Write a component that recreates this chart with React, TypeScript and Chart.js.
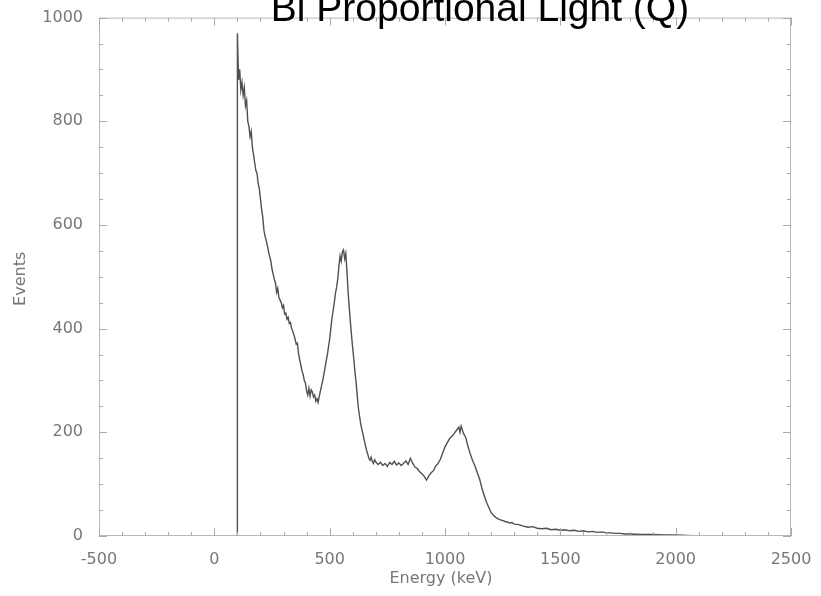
import React, { useEffect, useRef } from "react";
import { Chart, registerables } from "chart.js";

Chart.register(...registerables);

const TITLE = "Bi Proportional Light (Q)";
const X_TITLE = "Energy (keV)";
const Y_TITLE = "Events";

const xTicks = [-500, 0, 500, 1000, 1500, 2000, 2500];
const yTicks = [0, 200, 400, 600, 800, 1000];

const energy = [
  100, 100, 105, 110, 115, 120, 125, 130, 135, 140, 145, 150, 155, 160, 165, 170, 175, 180, 185, 190, 195,
  200, 205, 210, 215, 220, 225, 230, 235, 240, 245, 250, 255, 260, 265, 270, 275, 280, 285, 290, 295,
  300, 305, 310, 315, 320, 325, 330, 335, 340, 345, 350, 355, 360, 365, 370, 375, 380, 385, 390, 395,
  400, 405, 410, 415, 420, 425, 430, 435, 440, 445, 450, 455, 460, 465, 470, 475, 480, 485, 490, 495,
  500, 505, 510, 515, 520, 525, 530, 535, 540, 545, 550, 555, 560, 565, 570, 575, 580, 585, 590, 595,
  600, 605, 610, 615, 620, 625, 630, 635, 640, 645, 650, 655, 660, 665, 670, 675, 680, 685, 690, 695,
  700, 710, 720, 730, 740, 750, 760, 770, 780, 790, 800, 810, 820, 830, 840, 850, 860, 870, 880, 890,
  900, 910, 920, 930, 940, 950, 960, 970, 980, 990, 1000, 1010, 1020, 1030, 1040, 1050, 1060, 1065,
  1070, 1075, 1080, 1090, 1100, 1110, 1120, 1130, 1140, 1150, 1160, 1170, 1180, 1190, 1200, 1210,
  1220, 1230, 1240, 1250, 1260, 1270, 1280, 1290, 1300, 1320, 1340, 1360, 1380, 1400, 1420, 1440,
  1460, 1480, 1500, 1520, 1540, 1560, 1580, 1600, 1620, 1640, 1660, 1680, 1700, 1720, 1740, 1760,
  1780, 1800, 1850, 1900, 1950, 2000, 2050, 2100,
];

const events = [
  0, 970, 880, 900, 860, 875, 850, 865, 830, 840, 800, 790, 770, 780, 750, 735, 720, 705, 700, 680, 670,
  650, 630, 615, 590, 578, 570, 560, 548, 540, 530, 515, 505, 495, 488, 470, 478, 460, 455, 450, 440,
  445, 428, 430, 418, 422, 410, 412, 400, 395, 388, 380, 370, 372, 352, 340, 330, 318, 312, 300, 295,
  280, 272, 285, 270, 282, 278, 268, 272, 260, 265, 258, 270, 280, 290, 300, 312, 325, 338, 350, 365,
  380, 400, 420, 435, 450, 468, 480, 495, 520, 540, 530, 548, 552, 535, 545, 510, 470, 440, 412, 385,
  362, 340, 315, 295, 268, 245, 230, 215, 205, 195, 185, 175, 165, 158, 150, 146, 152, 144, 140, 147,
  143, 138, 142, 136, 140, 134, 142, 138, 144, 137, 141, 136, 140, 145, 138, 150, 140, 133, 130, 124,
  120, 115, 108, 116, 122, 126, 135, 140, 148, 160, 172, 180, 188, 192, 198, 204, 210, 200,
  212, 205, 198, 190, 172, 158, 145, 135, 122, 110, 92, 78, 65, 55, 45, 40,
  36, 33, 31, 30, 28, 27, 25, 26, 23, 22, 19, 17, 18, 15, 14, 15,
  12, 13, 11, 12, 10, 11, 9, 10, 8, 9, 7, 8, 6, 6, 5, 5,
  4, 4, 3, 3, 2, 2, 1, 0,
];

const LEFT = 99;
const TOP = 17;
const RIGHT = 791;
const BOTTOM = 536;
const W = 821;
const H = 596;

const framePlugin = {
  id: "frame",
  afterDatasetsDraw(chart: any) {
    const { ctx, chartArea } = chart;
    const xs = chart.scales.x;
    const ys = chart.scales.y;
    const { left, right, top, bottom } = chartArea;
    ctx.save();
    ctx.strokeStyle = "#b8b8b8";
    ctx.lineWidth = 1;
    ctx.strokeRect(left + 0.5, top + 0.5, right - left - 1, bottom - top - 1);
    ctx.strokeStyle = "#aaaaaa";
    ctx.beginPath();
    for (let v = xs.min; v <= xs.max; v += 100) {
      const px = Math.round(xs.getPixelForValue(v)) + 0.5;
      const major = xTicks.includes(v);
      const len = major ? 8 : 4;
      ctx.moveTo(px, bottom);
      ctx.lineTo(px, bottom - len);
      ctx.moveTo(px, top);
      ctx.lineTo(px, top + len);
    }
    for (let v = ys.min; v <= ys.max; v += 50) {
      const py = Math.round(ys.getPixelForValue(v)) + 0.5;
      const major = yTicks.includes(v);
      const len = major ? 8 : 4;
      ctx.moveTo(left, py);
      ctx.lineTo(left + len, py);
      ctx.moveTo(right, py);
      ctx.lineTo(right - len, py);
    }
    ctx.stroke();
    ctx.restore();
  },
  afterDraw(chart: any) {
    const { ctx, chartArea } = chart;
    ctx.save();
    ctx.fillStyle = "#000000";
    ctx.textAlign = "center";
    ctx.textBaseline = "alphabetic";
    ctx.font = "39px 'Liberation Sans', Arial, sans-serif";
    ctx.fillText(TITLE, 480, 21);

    ctx.fillStyle = "#777777";
    ctx.font = "16px 'DejaVu Sans', sans-serif";
    ctx.textBaseline = "middle";
    ctx.fillText(X_TITLE, (chartArea.left + chartArea.right) / 2 - 4, 579);
    ctx.translate(21, (chartArea.top + chartArea.bottom) / 2 + 2);
    ctx.rotate(-Math.PI / 2);
    ctx.fillText(Y_TITLE, 0, 0);
    ctx.restore();
  },
};

export default function App() {
  const ref = useRef<HTMLCanvasElement | null>(null);
  useEffect(() => {
    document.body.style.margin = "0";
    const canvas = ref.current;
    if (!canvas) return;
    const points = energy.map((e, i) => ({ x: e, y: events[i] }));
    const chart = new Chart(canvas, {
      type: "line",
      data: {
        datasets: [
          {
            data: points,
            borderColor: "#505050",
            borderWidth: 1.4,
            pointRadius: 0,
            fill: false,
            tension: 0,
          },
        ],
      },
      options: {
        responsive: false,
        animation: false,
        layout: { padding: { left: 0, top: TOP, right: W - RIGHT, bottom: 0 } },
        plugins: { legend: { display: false }, tooltip: { enabled: false }, title: { display: false } },
        scales: {
          x: {
            type: "linear",
            min: -500,
            max: 2500,
            afterFit: (s: any) => {
              s.height = H - BOTTOM;
            },
            afterBuildTicks: (s: any) => {
              s.ticks = xTicks.map((v) => ({ value: v }));
            },
            grid: { display: false },
            border: { display: false },
            ticks: {
              color: "#777777",
              padding: 6,
              maxRotation: 0,
              font: { family: "'DejaVu Sans', sans-serif", size: 16 },
              callback: (v: any) => String(v),
            },
          },
          y: {
            type: "linear",
            min: 0,
            max: 1000,
            afterFit: (s: any) => {
              s.width = LEFT;
            },
            afterBuildTicks: (s: any) => {
              s.ticks = yTicks.map((v) => ({ value: v }));
            },
            grid: { display: false },
            border: { display: false },
            ticks: {
              color: "#777777",
              padding: 8,
              font: { family: "'DejaVu Sans', sans-serif", size: 16 },
              callback: (v: any) => String(v),
            },
          },
        },
      },
      plugins: [framePlugin],
    });
    return () => chart.destroy();
  }, []);
  return (
    <div style={{ width: W, height: H, background: "#ffffff" }}>
      <canvas ref={ref} width={W} height={H} style={{ display: "block" }} />
    </div>
  );
}
